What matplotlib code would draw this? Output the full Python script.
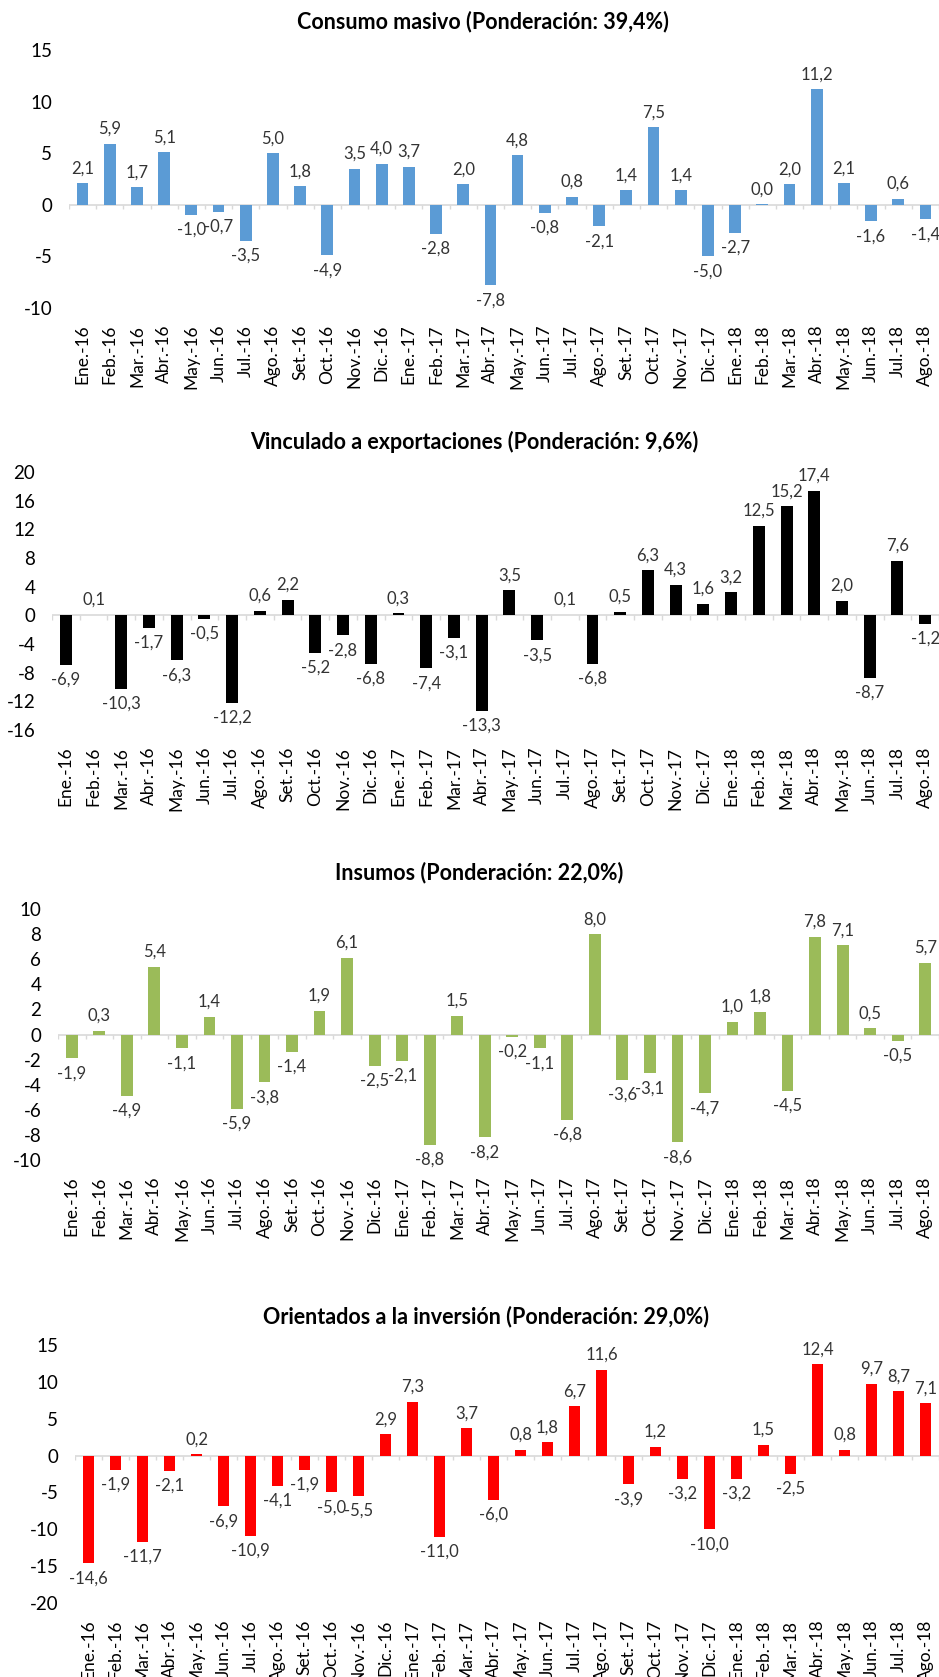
import matplotlib
matplotlib.use("Agg")
import matplotlib.pyplot as plt
import numpy as np

plt.rcParams['font.family'] = ['Lato', 'DejaVu Sans']

months = ['Ene.-16', 'Feb.-16', 'Mar.-16', 'Abr.-16', 'May.-16', 'Jun.-16', 'Jul.-16', 'Ago.-16',
          'Set.-16', 'Oct.-16', 'Nov.-16', 'Dic.-16',
          'Ene.-17', 'Feb.-17', 'Mar.-17', 'Abr.-17', 'May.-17', 'Jun.-17', 'Jul.-17', 'Ago.-17',
          'Set.-17', 'Oct.-17', 'Nov.-17', 'Dic.-17',
          'Ene.-18', 'Feb.-18', 'Mar.-18', 'Abr.-18', 'May.-18', 'Jun.-18', 'Jul.-18', 'Ago.-18']

consumo = [2.1, 5.9, 1.7, 5.1, -1.0, -0.7, -3.5, 5.0, 1.8, -4.9, 3.5, 4.0,
           3.7, -2.8, 2.0, -7.8, 4.8, -0.8, 0.8, -2.1, 1.4, 7.5, 1.4, -5.0,
           -2.7, 0.04, 2.0, 11.2, 2.1, -1.6, 0.6, -1.4]
exportaciones = [-6.9, 0.1, -10.3, -1.7, -6.3, -0.5, -12.2, 0.6, 2.2, -5.2, -2.8, -6.8,
                 0.3, -7.4, -3.1, -13.3, 3.5, -3.5, 0.1, -6.8, 0.5, 6.3, 4.3, 1.6,
                 3.2, 12.5, 15.2, 17.4, 2.0, -8.7, 7.6, -1.2]
insumos = [-1.9, 0.3, -4.9, 5.4, -1.1, 1.4, -5.9, -3.8, -1.4, 1.9, 6.1, -2.5,
           -2.1, -8.8, 1.5, -8.2, -0.2, -1.1, -6.8, 8.0, -3.6, -3.1, -8.6, -4.7,
           1.0, 1.8, -4.5, 7.8, 7.1, 0.5, -0.5, 5.7]
inversion = [-14.6, -1.9, -11.7, -2.1, 0.2, -6.9, -10.9, -4.1, -1.9, -5.0, -5.5, 2.9,
             7.3, -11.0, 3.7, -6.0, 0.8, 1.8, 6.7, 11.6, -3.9, 1.2, -3.2, -10.0,
             -3.2, 1.5, -2.5, 12.4, 0.8, 9.7, 8.7, 7.1]

titles = ['Consumo masivo (Ponderación: 39,4%)',
          'Vinculado a exportaciones (Ponderación: 9,6%)',
          'Insumos (Ponderación: 22,0%)',
          'Orientados a la inversión (Ponderación: 29,0%)']
yticks_list = [[-10, -5, 0, 5, 10, 15],
               [-16, -12, -8, -4, 0, 4, 8, 12, 16, 20],
               [-10, -8, -6, -4, -2, 0, 2, 4, 6, 8, 10],
               [-20, -15, -10, -5, 0, 5, 10, 15]]
colors = ['#5B9BD5', '#000000', '#9BBB59', '#FF0000']
series = [consumo, exportaciones, insumos, inversion]

W, H = 939, 1677
fig = plt.figure(figsize=(W / 100, H / 100), dpi=100)

# (left, right, top, bottom) in pixels, title center x, title y
layout = [(69, 939, 50, 308, 483, 22),
          (52, 939, 472, 730, 474, 442),
          (58, 939, 909, 1160, 479, 873),
          (75, 939, 1345, 1603, 486, 1317)]

for vals, title, yt, col, (l, r, t, b, tx, ty) in zip(series, titles, yticks_list, colors, layout):
    ax = fig.add_axes([l / W, 1 - b / H, (r - l) / W, (b - t) / H])
    x = np.arange(len(months))
    ax.bar(x, vals, width=0.43, color=col, zorder=3)
    ax.set_xlim(-0.5, len(months) - 0.5)
    ax.set_ylim(yt[0], yt[-1])
    ax.set_yticks(yt)
    ax.set_yticklabels([str(v) for v in yt], fontsize=13.5)
    ax.set_xticks(x)
    ax.set_xticklabels(months, rotation=90, fontsize=12.5)
    ax.tick_params(axis='y', length=0, pad=12)
    ax.tick_params(axis='x', length=0, pad=12)
    for s in ax.spines.values():
        s.set_visible(False)
    ax.axhline(0, color='#D9D9D9', lw=1.2, zorder=2)
    bounds = np.arange(len(months) + 1) - 0.5
    ax.vlines(bounds, 0, -(yt[-1] - yt[0]) * 0.018, color='#D9D9D9', lw=1.0, zorder=2)
    for xi, v in zip(x, vals):
        lab = f'{v:.1f}'.replace('.', ',')
        if v >= 0:
            ax.annotate(lab, (xi, v), xytext=(0, 5), textcoords='offset points',
                        ha='center', va='bottom', fontsize=12, color='#333333')
        else:
            ax.annotate(lab, (xi, v), xytext=(0, -5), textcoords='offset points',
                        ha='center', va='top', fontsize=12, color='#333333')
    fig.text(tx / W, 1 - ty / H, title, ha='center', va='center',
             fontsize=15.5, fontweight='bold')

fig.savefig('out.png', dpi=100)
